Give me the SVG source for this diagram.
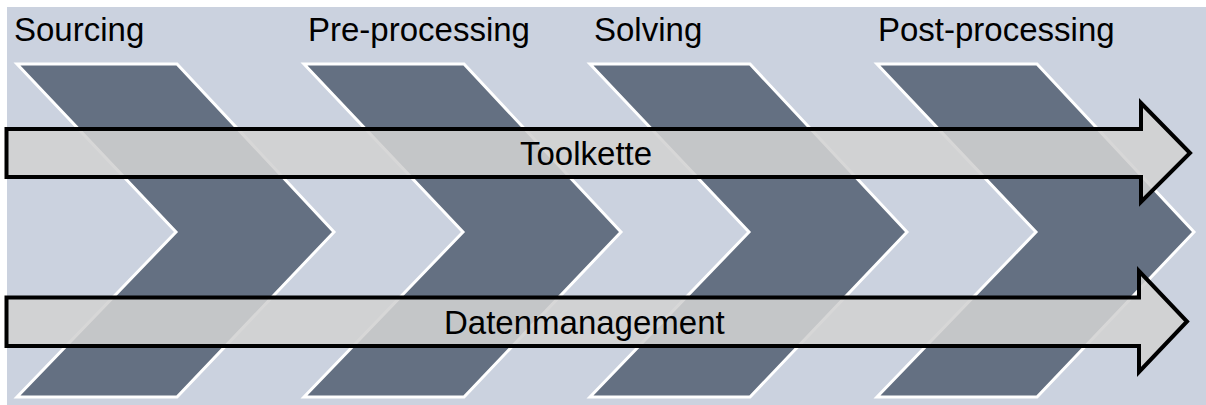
<svg xmlns="http://www.w3.org/2000/svg" xmlns:xlink="http://www.w3.org/1999/xlink" width="1206" height="405" viewBox="0 0 1206 405">
  <style>
    .bg { fill: #cbd2df; }
    .chevron { fill: #647082; stroke: #ffffff; stroke-width: 3; stroke-linejoin: miter; stroke-miterlimit: 10; }
    .band { fill: #d2d2d2; fill-opacity: 0.88; stroke: #000000; stroke-width: 4; stroke-linejoin: miter; stroke-miterlimit: 10; }
    .label { font-family: "Liberation Sans", Arial, sans-serif; font-size: 33px; fill: #000000; }
  </style>
  <defs>
    <!-- one process-step chevron, positioned with translate -->
    <path id="chev" d="M17,64 H177 L334,232 L177,397 H17 L176,232 Z"/>
  </defs>

  <rect x="0" y="0" width="1206" height="405" fill="#ffffff"/>
  <rect class="bg" x="7" y="7" width="1199" height="398"/>

  <!-- process stages -->
  <g id="stage-sourcing">
    <use xlink:href="#chev" class="chevron"/>
    <text class="label" x="14" y="41">Sourcing</text>
  </g>
  <g id="stage-preprocessing">
    <use xlink:href="#chev" class="chevron" transform="translate(287,0)"/>
    <text class="label" x="308" y="41">Pre-processing</text>
  </g>
  <g id="stage-solving">
    <use xlink:href="#chev" class="chevron" transform="translate(573,0)"/>
    <text class="label" x="594" y="41">Solving</text>
  </g>
  <g id="stage-postprocessing">
    <use xlink:href="#chev" class="chevron" transform="translate(860,0)"/>
    <text class="label" x="878" y="41">Post-processing</text>
  </g>

  <!-- cross-cutting bands spanning all stages -->
  <g id="band-toolkette">
    <path class="band" d="M6.5,129 H1141 V103 L1190,153 L1141,202 V177 H6.5 Z"/>
    <text class="label" x="520" y="165">Toolkette</text>
  </g>
  <g id="band-datenmanagement">
    <path class="band" d="M6.5,297.5 H1139 V271 L1187,321.5 L1139,372 V346 H6.5 Z"/>
    <text class="label" x="444" y="334">Datenmanagement</text>
  </g>

  <g id="connectors"/>
</svg>
